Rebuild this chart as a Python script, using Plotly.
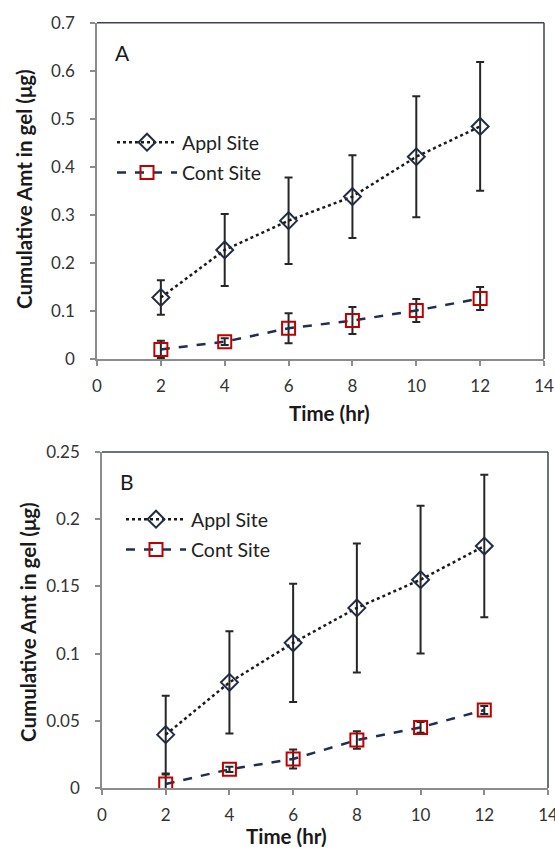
import plotly.graph_objects as go

# ---- data ----
time_hr = [2, 4, 6, 8, 10, 12]

a_appl = [0.128, 0.227, 0.288, 0.338, 0.421, 0.484]
a_appl_err = [0.036, 0.075, 0.090, 0.086, 0.126, 0.134]
a_cont = [0.020, 0.036, 0.064, 0.080, 0.101, 0.126]
a_cont_err = [0.018, 0.007, 0.031, 0.028, 0.024, 0.024]

b_appl = [0.0397, 0.0786, 0.108, 0.134, 0.155, 0.180]
b_appl_err = [0.029, 0.038, 0.044, 0.048, 0.055, 0.053]
b_cont = [0.003, 0.0139, 0.0216, 0.0357, 0.0451, 0.058]
b_cont_err = [0.007, 0.002, 0.007, 0.0065, 0.004, 0.003]

x_ticks = [0, 2, 4, 6, 8, 10, 12, 14]
series_names = ["Appl Site", "Cont Site"]
panel_labels = ["A", "B"]
y_title = "Cumulative Amt in gel (μg)"
x_title = "Time (hr)"

W, H = 555, 852
FONT = "Lato"
ERR_COL = "#262626"
APPL_LINE = "#1a1a1a"
APPL_MK = "#1f2d45"
CONT_LINE = "#1f2f4f"
CONT_MK = "#c00000"
AX_COL = "#8c8c8c"
BORDER_COL = "#3c4350"

fig = go.Figure()


def add_panel(xa, ya, appl, appl_err, cont, cont_err, legend):
    fig.add_trace(go.Scatter(
        x=time_hr, y=appl, name=series_names[0], xaxis=xa, yaxis=ya,
        mode="lines+markers", legend=legend, legendgroup=legend + "a",
        line=dict(color=APPL_LINE, width=2.5, dash="dot"),
        marker=dict(symbol="diamond-open", size=13, color=APPL_MK,
                    line=dict(width=2, color=APPL_MK)),
        error_y=dict(type="data", array=appl_err, visible=True,
                     color=ERR_COL, thickness=2, width=4),
    ))
    fig.add_trace(go.Scatter(
        x=time_hr, y=cont, name=series_names[1], xaxis=xa, yaxis=ya,
        mode="lines+markers", legend=legend, legendgroup=legend + "c",
        line=dict(color=CONT_LINE, width=2.5, dash="dash"),
        marker=dict(symbol="square-open", size=13, color=CONT_MK,
                    line=dict(width=2, color=CONT_MK)),
        error_y=dict(type="data", array=cont_err, visible=True,
                     color=ERR_COL, thickness=2, width=4),
    ))


add_panel("x", "y", a_appl, a_appl_err, a_cont, a_cont_err, "legend")
add_panel("x2", "y2", b_appl, b_appl_err, b_cont, b_cont_err, "legend2")


def px(xp):
    return xp / W


def py(yp):
    return 1 - yp / H


top = dict(l=97, r=544, t=22.7, b=359)
bot = dict(l=102, r=548, t=452, b=788)

TICKFONT = dict(family=FONT, size=17, color="#333333")
xcommon = dict(range=[0, 14], tickvals=x_ticks, showgrid=False, zeroline=False,
               showline=True, linecolor=AX_COL, linewidth=1.5,
               ticks="outside", ticklen=5, tickcolor=AX_COL, tickwidth=1.5,
               tickfont=TICKFONT, ticklabelstandoff=6, automargin=False,
               ticklabeloverflow="allow")
ycommon = dict(showgrid=False, zeroline=False,
               showline=True, linecolor=AX_COL, linewidth=1.5,
               ticks="outside", ticklen=5, tickcolor=AX_COL, tickwidth=1.5,
               tickfont=TICKFONT, ticklabelstandoff=12, automargin=False)

LEGFONT = dict(family=FONT, size=19.5, color="#222222")
fig.update_layout(
    width=W, height=H,
    margin=dict(l=0, r=0, t=0, b=0, pad=0, autoexpand=False),
    paper_bgcolor="white", plot_bgcolor="white",
    font=dict(family=FONT, color="#222222"),
    xaxis=dict(domain=[px(top["l"]), px(top["r"])], anchor="y", **xcommon),
    yaxis=dict(domain=[py(top["b"]), py(top["t"])], anchor="x",
               range=[0, 0.7], dtick=0.1, tick0=0, **ycommon),
    xaxis2=dict(domain=[px(bot["l"]), px(bot["r"])], anchor="y2", **xcommon),
    yaxis2=dict(domain=[py(bot["b"]), py(bot["t"])], anchor="x2",
                range=[0, 0.25], dtick=0.05, tick0=0, **ycommon),
    legend=dict(x=px(112), y=py(123), xanchor="left", yanchor="top",
                bgcolor="rgba(0,0,0,0)", itemwidth=60, tracegroupgap=2,
                font=LEGFONT),
    legend2=dict(x=px(121), y=py(500), xanchor="left", yanchor="top",
                 bgcolor="rgba(0,0,0,0)", itemwidth=60, tracegroupgap=2,
                 font=LEGFONT),
    showlegend=True,
)

for xr, yr in (("x domain", "y domain"), ("x2 domain", "y2 domain")):
    fig.add_shape(type="line", xref=xr, yref=yr, x0=0, x1=1, y0=1, y1=1,
                  line=dict(color=BORDER_COL, width=1.5))
    fig.add_shape(type="line", xref=xr, yref=yr, x0=1, x1=1, y0=0, y1=1,
                  line=dict(color=BORDER_COL, width=1.5))

for text, xc, yc in ((panel_labels[0], 122, 53), (panel_labels[1], 127, 482)):
    fig.add_annotation(text=text, x=px(xc), y=py(yc), xref="paper", yref="paper",
                       showarrow=False, xanchor="center", yanchor="middle",
                       font=dict(family=FONT, size=21, color="#1a1a1a"))

for (xc, yc) in ((24, 189), (28, 622)):
    fig.add_annotation(text="<b>" + y_title + "</b>", x=px(xc), y=py(yc),
                       xref="paper", yref="paper", showarrow=False, textangle=-90,
                       xanchor="center", yanchor="middle",
                       font=dict(family=FONT, size=20.5, color="#1a1a1a"))

for (xc, yc) in ((329, 413), (286, 836)):
    fig.add_annotation(text="<b>" + x_title + "</b>", x=px(xc), y=py(yc),
                       xref="paper", yref="paper", showarrow=False,
                       xanchor="center", yanchor="middle",
                       font=dict(family=FONT, size=20.5, color="#1a1a1a"))

fig.write_html("out.html")
